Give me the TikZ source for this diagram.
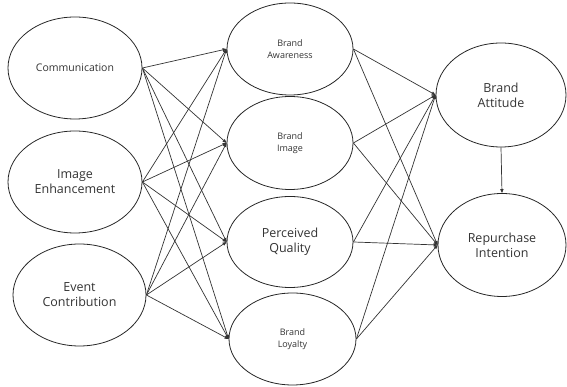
\documentclass[tikz,border=0pt]{standalone}
\usepackage{fontspec}
\setmainfont{Open Sans}
\usetikzlibrary{shapes.geometric,arrows.meta}
\begin{document}
\begin{tikzpicture}[x=1pt,y=1pt,
  oval/.style={draw=black!85, line width=0.8pt, ellipse, inner sep=0pt, align=center, text=black!80},
  big/.style={font=\fontsize{12.5}{15}\selectfont},
  mid/.style={font=\fontsize{10.5}{13}\selectfont},
  small/.style={font=\fontsize{9}{12}\selectfont},
  arr/.style={-{Triangle[length=4pt,width=3.2pt]}, draw=black!80, line width=0.7pt}]
\useasboundingbox (0,0) rectangle (567,387);
\node[oval,mid, minimum width=134pt, minimum height=102pt] (com) at (75,319) {Communication};
\node[oval,big, minimum width=134pt, minimum height=102pt] (img) at (75,205) {Image\\Enhancement};
\node[oval,big, minimum width=133pt, minimum height=102pt] (evt) at (79.5,92) {Event\\Contribution};
\node[oval,small, minimum width=126pt, minimum height=92pt] (aw) at (290,338) {Brand\\Awareness};
\node[oval,small, minimum width=126pt, minimum height=93pt] (bi) at (290,244) {Brand\\Image};
\node[oval,big, minimum width=126pt, minimum height=91pt] (pq) at (290,145) {Perceived\\Quality};
\node[oval,small, minimum width=127pt, minimum height=92pt] (bl) at (292.5,48) {Brand\\Loyalty};
\node[oval,big, minimum width=130pt, minimum height=104pt] (att) at (501,292) {Brand\\Attitude};
\node[oval,big, minimum width=128pt, minimum height=103pt] (rep) at (502,142) {Repurchase\\Intention};
\foreach \s in {com,img,evt}{
  \foreach \t in {aw,bi,pq,bl}{
    \draw[arr] (\s.east) -- (\t.west);
  }
}
\foreach \s in {aw,bi,pq,bl}{
  \foreach \t in {att,rep}{
    \draw[arr] (\s.east) -- (\t.west);
  }
}
\draw[arr] (att.south) -- (rep.north);
\end{tikzpicture}
\end{document}
